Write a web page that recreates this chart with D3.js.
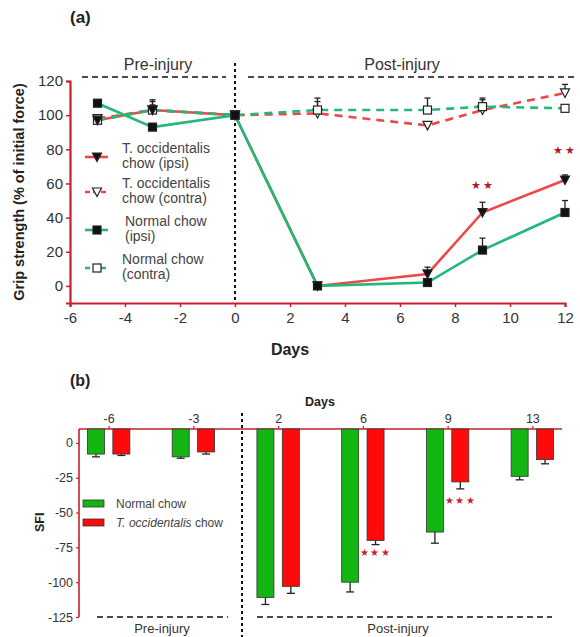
<!DOCTYPE html>
<html><head><meta charset="utf-8">
<script src="https://cdn.jsdelivr.net/npm/d3@7/dist/d3.min.js"></script>
<style>
body{margin:0;background:#fff;}
text{font-family:Arial,"Liberation Sans",sans-serif;}
</style></head>
<body>
<svg id="c" width="580" height="637"></svg>
<script>
// ---------- Data: panel (a) ----------
const daysA = [-5, -3, 0, 3, 7, 9, 12];
const xTicksA = [-6, -4, -2, 0, 2, 4, 6, 8, 10, 12];
const yTicksA = [0, 20, 40, 60, 80, 100, 120];
const tocIpsi = [97, 103, 100, 0, 7, 43, 62];
const tocIpsiErr = [3, 6, 0, 0, 4, 6, 3];
const tocContra = [98, 103, 100, 101, 94, 103, 113];
const tocContraErr = [2, 5, 0, 7, 1, 6, 5];
const ncIpsi = [107, 93, 100, 0, 2, 21, 43];
const ncIpsiErr = [2, 2, 0, 0, 1, 7, 7];
const ncContra = [97, 103, 100, 103, 103, 105, 104];
const ncContraErr = [2, 3, 0, 7, 7, 5, 1];
const starsA = [{day: 9, value: 57, label: "**"}, {day: 12, value: 77, label: "**"}];
const legendA = [
  ["T. occidentalis", "chow (ipsi)"],
  ["T. occidentalis", "chow (contra)"],
  ["Normal chow", "(ipsi)"],
  ["Normal chow", "(contra)"]
];

// ---------- Data: panel (b) ----------
const sfiDays = ["-6", "-3", "2", "6", "9", "13"];
const yTicksB = [0, -25, -50, -75, -100, -125];
const sfiNormal = [-8, -10, -111, -100, -64, -24];
const sfiNormalErr = [2, 1, 5, 7, 8, 2.5];
const sfiToc = [-8, -6.5, -103, -70, -28, -12];
const sfiTocErr = [1, 1.5, 5, 3, 5, 3];
const starsB = [{day: "6", value: -81, label: "***"}, {day: "9", value: -44, label: "***"}];

const RED = "#ee4747", GREEN = "#22b878", AXRED = "#c8202a", TXT = "#333";
const svg = d3.select("#c");
const fmt = d => String(d);

// =============== Panel (a) ===============
const xA = d3.scaleLinear([-6, 12], [70, 565]);
const yA = d3.scaleLinear([-10, 120], [303, 81]);

svg.append("text").attr("x", 70).attr("y", 23).attr("font-size", 17).attr("font-weight", "bold").attr("fill", "#222").text("(a)");

const gxA = svg.append("g").attr("transform", `translate(0,${yA(-10)})`)
  .call(d3.axisBottom(xA).tickValues(xTicksA).tickFormat(fmt).tickSize(4).tickPadding(5));
const gyA = svg.append("g").attr("transform", `translate(${xA(-6)},0)`)
  .call(d3.axisLeft(yA).tickValues(yTicksA).tickFormat(fmt).tickSize(4).tickPadding(3));
[gxA, gyA].forEach(g => {
  g.select(".domain").attr("stroke", AXRED).attr("stroke-width", 2.2);
  g.selectAll(".tick line").attr("stroke", AXRED).attr("stroke-width", 1.5);
  g.selectAll(".tick text").attr("font-size", 15).attr("fill", TXT).attr("font-family", "Arial, Liberation Sans, sans-serif");
});

svg.append("text").attr("transform", `translate(24,${(yA(-10)+yA(120))/2}) rotate(-90)`)
  .attr("text-anchor", "middle").attr("font-size", 14.5).attr("font-weight", "bold").attr("fill", "#222")
  .text("Grip strength (% of initial force)");
svg.append("text").attr("x", 290).attr("y", 355).attr("text-anchor", "middle").attr("font-size", 16).attr("font-weight", "bold").attr("fill", "#222").text("Days");

svg.append("line").attr("x1", xA(0)).attr("x2", xA(0)).attr("y1", 63).attr("y2", yA(-10))
  .attr("stroke", "#111").attr("stroke-width", 2).attr("stroke-dasharray", "3,3");
svg.append("line").attr("x1", 82).attr("x2", 226).attr("y1", 77).attr("y2", 77)
  .attr("stroke", "#111").attr("stroke-width", 1.6).attr("stroke-dasharray", "6,4");
svg.append("line").attr("x1", 248).attr("x2", 575).attr("y1", 77).attr("y2", 77)
  .attr("stroke", "#111").attr("stroke-width", 1.6).attr("stroke-dasharray", "6,4");
svg.append("text").attr("x", 158).attr("y", 70).attr("text-anchor", "middle").attr("font-size", 16).attr("fill", TXT).text("Pre-injury");
svg.append("text").attr("x", 402).attr("y", 70).attr("text-anchor", "middle").attr("font-size", 16).attr("fill", TXT).text("Post-injury");

const seriesA = [
  {vals: tocIpsi, err: tocIpsiErr, color: RED, dash: null, marker: "tri", fill: "#111"},
  {vals: tocContra, err: tocContraErr, color: RED, dash: "8,6", marker: "tri", fill: "#fff"},
  {vals: ncIpsi, err: ncIpsiErr, color: GREEN, dash: null, marker: "sq", fill: "#111"},
  {vals: ncContra, err: ncContraErr, color: GREEN, dash: "8,6", marker: "sq", fill: "#fff"}
];
const line = d3.line().x(d => xA(d[0])).y(d => yA(d[1]));
function marker(g, type, fill, x, y) {
  if (type === "tri") {
    g.append("path").attr("d", `M${x-4.5},${y-4} L${x+4.5},${y-4} L${x},${y+4.5} Z`)
      .attr("fill", fill).attr("stroke", "#222").attr("stroke-width", 1.2);
  } else {
    g.append("rect").attr("x", x-4).attr("y", y-4).attr("width", 8).attr("height", 8)
      .attr("fill", fill).attr("stroke", "#222").attr("stroke-width", 1.2);
  }
}
seriesA.forEach(s => {
  daysA.forEach((d, i) => {
    if (s.err[i] > 0) {
      const x = xA(d), y0 = yA(s.vals[i]), y1 = yA(s.vals[i] + s.err[i]);
      svg.append("line").attr("x1", x).attr("x2", x).attr("y1", y0).attr("y2", y1).attr("stroke", "#222").attr("stroke-width", 1.3);
      svg.append("line").attr("x1", x-3).attr("x2", x+3).attr("y1", y1).attr("y2", y1).attr("stroke", "#222").attr("stroke-width", 1.3);
    }
  });
});
seriesA.forEach(s => {
  svg.append("path").datum(daysA.map((d, i) => [d, s.vals[i]])).attr("d", line)
    .attr("fill", "none").attr("stroke", s.color).attr("stroke-width", 2.6)
    .attr("stroke-dasharray", s.dash);
});
// contra markers first, ipsi (filled) on top
[1, 3, 0, 2].forEach(k => {
  const s = seriesA[k];
  daysA.forEach((d, i) => marker(svg, s.marker, s.fill, xA(d), yA(s.vals[i])));
});
starsA.forEach(s => svg.append("text").attr("x", xA(s.day)).attr("y", yA(s.value)).attr("text-anchor", "middle")
  .attr("font-size", 11).attr("letter-spacing", 2).attr("fill", "#b01e28").text(s.label.replace(/\*/g, "★")));

const legY = [157, 192, 230, 268];
const legTx = [122, 122, 125, 122];
legendA.forEach((lab, i) => {
  const s = seriesA[i], y = legY[i];
  svg.append("line").attr("x1", 85).attr("x2", 108).attr("y1", y).attr("y2", y)
    .attr("stroke", s.color).attr("stroke-width", 2.6).attr("stroke-dasharray", s.dash ? "5,3" : null);
  marker(svg, s.marker, s.fill, 97, y);
  const t = svg.append("text").attr("x", legTx[i]).attr("y", y - 4).attr("font-size", 14).attr("fill", "#444");
  t.append("tspan").attr("x", legTx[i]).text(lab[0]);
  t.append("tspan").attr("x", legTx[i]).attr("dy", 15).text(lab[1]);
});

// =============== Panel (b) ===============
const xB = d3.scalePoint(sfiDays, [79, 562]).padding(0.35);
const yB = d3.scaleLinear([-125, 10], [617, 429]);

svg.append("text").attr("x", 70).attr("y", 386).attr("font-size", 16).attr("font-weight", "bold").attr("fill", "#222").text("(b)");
svg.append("text").attr("x", 320).attr("y", 406).attr("text-anchor", "middle").attr("font-size", 12.5).attr("font-weight", "bold").attr("fill", "#222").text("Days");

const gxB = svg.append("g").attr("transform", `translate(0,${yB(10)})`)
  .call(d3.axisTop(xB).tickSize(3).tickPadding(3));
const gyB = svg.append("g").attr("transform", `translate(${xB.range()[0]},0)`)
  .call(d3.axisLeft(yB).tickValues(yTicksB).tickFormat(fmt).tickSize(3).tickPadding(3));
[gxB, gyB].forEach(g => {
  g.select(".domain").attr("stroke", AXRED).attr("stroke-width", 1.6);
  g.selectAll(".tick line").attr("stroke", AXRED).attr("stroke-width", 1.2);
  g.selectAll(".tick text").attr("font-size", 12.5).attr("fill", TXT).attr("font-family", "Arial, Liberation Sans, sans-serif");
});
gxB.select(".domain").attr("d", `M${xB.range()[0]},0H${xB.range()[1]}`);
gyB.select(".domain").attr("d", `M0,${yB(-125)}V${yB(10)}`);

svg.append("text").attr("transform", `translate(44,${yB(-57)}) rotate(-90)`).attr("text-anchor", "middle")
  .attr("font-size", 12.5).attr("font-weight", "bold").attr("fill", "#222").text("SFI");

const barW = 17, off = 12.7;
const seriesB = [
  {vals: sfiNormal, err: sfiNormalErr, color: "#13b513", dx: -off},
  {vals: sfiToc, err: sfiTocErr, color: "#ff0a0a", dx: off}
];
seriesB.forEach(s => {
  sfiDays.forEach((d, i) => {
    const cx = xB(d) + s.dx, yb = yB(s.vals[i]), ye = yB(s.vals[i] - s.err[i]);
    svg.append("line").attr("x1", cx).attr("x2", cx).attr("y1", yb).attr("y2", ye).attr("stroke", "#222").attr("stroke-width", 1.3);
    svg.append("line").attr("x1", cx-4).attr("x2", cx+4).attr("y1", ye).attr("y2", ye).attr("stroke", "#222").attr("stroke-width", 1.3);
    svg.append("rect").attr("x", cx - barW/2).attr("y", yB(10)).attr("width", barW).attr("height", yb - yB(10))
      .attr("fill", s.color).attr("stroke", "#333").attr("stroke-width", 0.8);
  });
});
starsB.forEach(s => svg.append("text").attr("x", xB(s.day) + off).attr("y", yB(s.value)).attr("text-anchor", "middle")
  .attr("font-size", 10).attr("fill", "#c8202a").attr("letter-spacing", 1.5).text(s.label.replace(/\*/g, "★")));

svg.append("line").attr("x1", 242).attr("x2", 242).attr("y1", 413).attr("y2", 637)
  .attr("stroke", "#111").attr("stroke-width", 2).attr("stroke-dasharray", "3,3");
svg.append("line").attr("x1", 97).attr("x2", 228).attr("y1", yB(-125)).attr("y2", yB(-125))
  .attr("stroke", "#111").attr("stroke-width", 1.4).attr("stroke-dasharray", "6,4");
svg.append("line").attr("x1", 257).attr("x2", 552).attr("y1", yB(-125)).attr("y2", yB(-125))
  .attr("stroke", "#111").attr("stroke-width", 1.4).attr("stroke-dasharray", "6,4");
svg.append("text").attr("x", 162).attr("y", 633).attr("text-anchor", "middle").attr("font-size", 13).attr("fill", TXT).text("Pre-injury");
svg.append("text").attr("x", 398).attr("y", 633).attr("text-anchor", "middle").attr("font-size", 13).attr("fill", TXT).text("Post-injury");

svg.append("rect").attr("x", 83).attr("y", 500).attr("width", 21).attr("height", 7).attr("fill", "#13b513").attr("stroke", "#333").attr("stroke-width", 0.8);
svg.append("rect").attr("x", 83).attr("y", 519).attr("width", 21).attr("height", 7).attr("fill", "#ff0a0a").attr("stroke", "#333").attr("stroke-width", 0.8);
svg.append("text").attr("x", 116).attr("y", 508).attr("font-size", 12).attr("fill", "#444").text("Normal chow");
const tl = svg.append("text").attr("x", 116).attr("y", 527).attr("font-size", 12).attr("fill", "#444");
tl.append("tspan").attr("font-style", "italic").text("T. occidentalis");
tl.append("tspan").text(" chow");
</script>
</body></html>
